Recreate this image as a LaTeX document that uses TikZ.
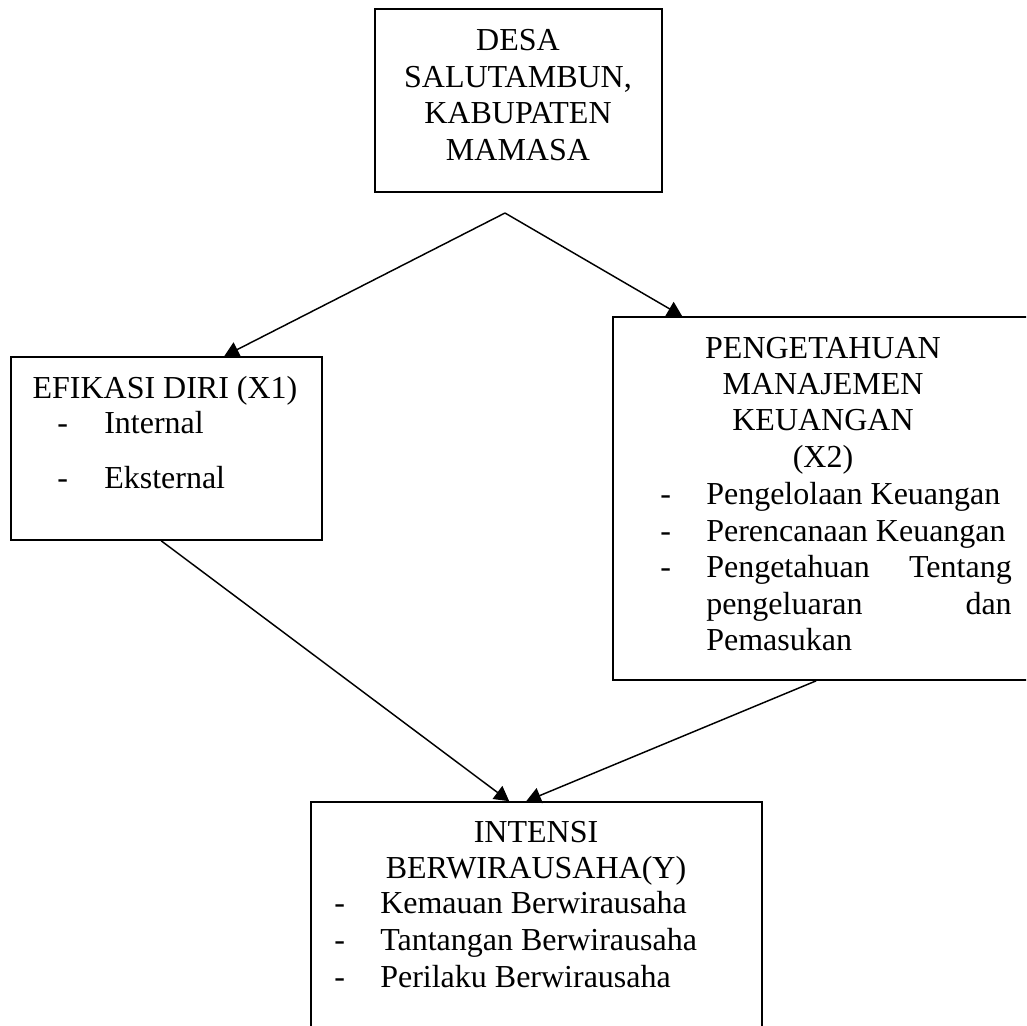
\documentclass[tikz,border=0pt]{standalone}
\usepackage{fontspec}
\setmainfont{Liberation Serif}
\usetikzlibrary{arrows.meta,calc}
\begin{document}
\begin{tikzpicture}[x=0.75pt,y=-0.75pt,
  box/.style={draw,line width=1.2pt,rectangle,inner sep=0pt},
  txt/.style={inner sep=0pt,font=\fontsize{24pt}{27.75pt}\selectfont},
  arr/.style={line width=1.1pt,-{Triangle[length=11pt,width=12pt]}}]
\useasboundingbox (0,0) rectangle (1026,1026);
\clip (0,0) rectangle (1026,1026);
% boxes
\node[box,minimum width=215.25pt,minimum height=137.25pt] (desa) at (518.5,100.5) {};
\node[box,minimum width=233.25pt,minimum height=137.25pt] (x1) at (166.5,448.5) {};
\node[box,minimum width=320.25pt,minimum height=272.25pt] (x2) at (826.5,498.5) {};
\node[box,minimum width=338.25pt,minimum height=178.5pt] (y) at (536.5,921) {};
% top box text
\node[txt,anchor=base] (d1) at (518,50) {DESA};
\node[txt,anchor=base] (d2) at (518,87) {SALUTAMBUN,};
\node[txt,anchor=base] (d3) at (518,123) {KABUPATEN};
\node[txt,anchor=base] (d4) at (518,160) {MAMASA};
% left box text
\node[txt,anchor=base] (e1) at (165,398) {EFIKASI DIRI (X1)};
\node[txt,anchor=base west] (e2d) at (57,433) {-};
\node[txt,anchor=base west] (e2) at (104,433) {Internal};
\node[txt,anchor=base west] (e3d) at (57,488) {-};
\node[txt,anchor=base west] (e3) at (104,488) {Eksternal};
% right box text
\node[txt,anchor=base] (p1) at (823,358) {PENGETAHUAN};
\node[txt,anchor=base] (p2) at (823,394) {MANAJEMEN};
\node[txt,anchor=base] (p3) at (823,430) {KEUANGAN};
\node[txt,anchor=base] (p4) at (823,467) {(X2)};
\node[txt,anchor=base west] (p5d) at (660,504) {-};
\node[txt,anchor=base west] (p5) at (706,504) {Pengelolaan Keuangan};
\node[txt,anchor=base west] (p6d) at (660,541) {-};
\node[txt,anchor=base west] (p6) at (706,541) {Perencanaan Keuangan};
\node[txt,anchor=base west] (p7d) at (660,577) {-};
\node[txt,anchor=base west] (p7) at (706,577) {Pengetahuan};
\node[txt,anchor=base east] (p7b) at (1012,577) {Tentang};
\node[txt,anchor=base west] (p8) at (706,614) {pengeluaran};
\node[txt,anchor=base east] (p8b) at (1012,614) {dan};
\node[txt,anchor=base west] (p9) at (706,650) {Pemasukan};
% bottom box text
\node[txt,anchor=base] (y1) at (536,842) {INTENSI};
\node[txt,anchor=base] (y2) at (536,878) {BERWIRAUSAHA(Y)};
\node[txt,anchor=base west] (y3d) at (334,913) {-};
\node[txt,anchor=base west] (y3) at (380,913) {Kemauan Berwirausaha};
\node[txt,anchor=base west] (y4d) at (334,950) {-};
\node[txt,anchor=base west] (y4) at (380,950) {Tantangan Berwirausaha};
\node[txt,anchor=base west] (y5d) at (334,987) {-};
\node[txt,anchor=base west] (y5) at (380,987) {Perilaku Berwirausaha};
% connector points
\coordinate (apex) at (505,213);
\coordinate (x1in) at ($(x1.north west)+(214,0)$);
\coordinate (x2in) at ($(x2.north west)+(70,0)$);
\coordinate (x1out) at ($(x1.south west)+(151,0)$);
\coordinate (x2out) at ($(x2.south west)+(204,0)$);
\coordinate (yin1) at ($(y.north west)+(199,0)$);
\coordinate (yin2) at ($(y.north west)+(216,0)$);
\draw[arr] (apex) -- (x1in);
\draw[arr] (apex) -- (x2in);
\draw[arr] (x1out) -- (yin1);
\draw[arr] (x2out) -- (yin2);
\end{tikzpicture}
\end{document}
